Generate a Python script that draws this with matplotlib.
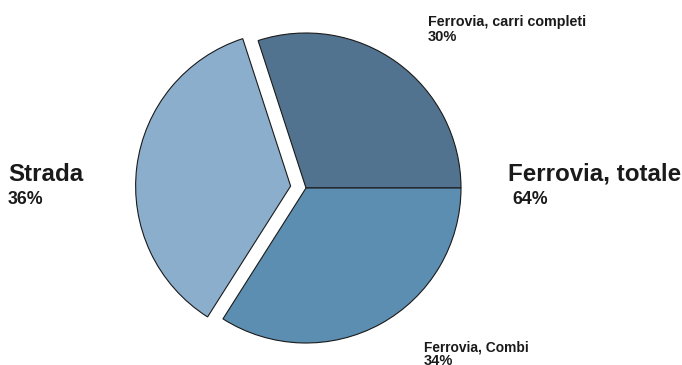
import matplotlib
matplotlib.use("Agg")
import matplotlib.pyplot as plt

plt.rcParams['font.family'] = ['Liberation Sans', 'DejaVu Sans']

categories = ["Ferrovia, carri completi", "Ferrovia, Combi", "Strada"]
values = [30, 34, 36]
pct_labels = ["30%", "34%", "36%"]
colors = ["#52738f", "#5c8eb1", "#8caecd"]
explode = [0, 0, 0.1]
total_label = "Ferrovia, totale"
total_pct = "64%"

W, H = 682, 365
R = 155
fig = plt.figure(figsize=(W / 100, H / 100), dpi=100)
ax = fig.add_axes([0, 0, 1, 1])

ax.pie(values, colors=colors, explode=[e * R for e in explode], startangle=108,
       counterclock=False, center=(306, 177), radius=R, frame=True,
       wedgeprops=dict(edgecolor='#1a1a1a', linewidth=0.8))
ax.set_xlim(0, W)
ax.set_ylim(0, H)
ax.set_aspect('equal')
ax.axis('off')

tc = '#1a1a1a'
# Strada
ax.text(8, 184, categories[2], fontsize=17.4, fontweight='bold', color=tc, va='baseline', ha='left')
ax.text(8, 161, pct_labels[2], fontsize=12.8, fontweight='bold', color=tc, va='baseline', ha='left')
# Ferrovia, totale
ax.text(508, 184, total_label, fontsize=17.4, fontweight='bold', color=tc, va='baseline', ha='left')
ax.text(512, 161, total_pct, fontsize=12.8, fontweight='bold', color=tc, va='baseline', ha='left')
# carri completi
ax.text(428, 339, categories[0], fontsize=10.3, fontweight='bold', color=tc, va='baseline', ha='left')
ax.text(428, 324, pct_labels[0], fontsize=10.5, fontweight='bold', color=tc, va='baseline', ha='left')
# Combi
ax.text(424, 14, categories[1], fontsize=9.9, fontweight='bold', color=tc, va='baseline', ha='left')
ax.text(424, 0, pct_labels[1], fontsize=10.5, fontweight='bold', color=tc, va='baseline', ha='left')

fig.savefig("out.png", dpi=100)
